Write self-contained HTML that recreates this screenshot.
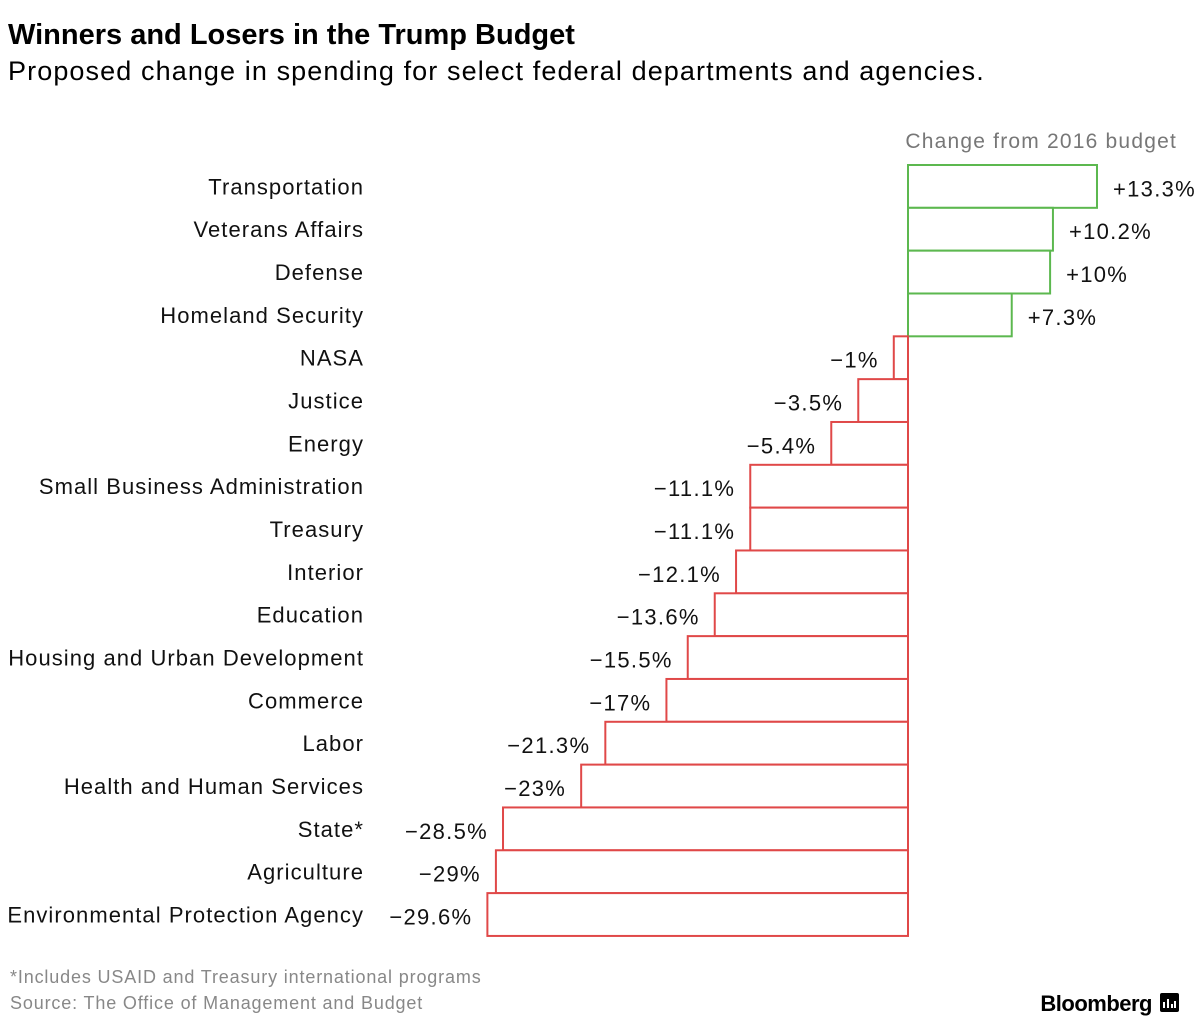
<!DOCTYPE html>
<html><head><meta charset="utf-8"><style>
body{margin:0;background:#fff;width:1200px;height:1031px;overflow:hidden;font-family:"Liberation Sans",Arial,sans-serif}
</style></head><body>
<svg id="chart" width="1200" height="1031" xmlns="http://www.w3.org/2000/svg" font-family="Liberation Sans, Arial, sans-serif">
<text x="8" y="44" font-size="29" font-weight="bold" fill="#000">Winners and Losers in the Trump Budget</text>
<text x="8" y="80" font-size="27" fill="#000" letter-spacing="1.1">Proposed change in spending for select federal departments and agencies.</text>
<text x="1177" y="148" font-size="21" fill="#777" text-anchor="end" letter-spacing="1.2">Change from 2016 budget</text>
<g id="bars"></g>
<text x="10" y="983" font-size="18" fill="#888" letter-spacing="0.85">*Includes USAID and Treasury international programs</text>
<text x="10" y="1009" font-size="18" fill="#888" letter-spacing="0.85">Source: The Office of Management and Budget</text>
<text x="1152" y="1011" font-size="22" font-weight="bold" fill="#000" text-anchor="end" letter-spacing="-0.5">Bloomberg</text>
<rect x="1160" y="993" width="19" height="19" rx="2" fill="#000"/>
<path d="M1164 1008v-6M1168 1008v-9M1172 1008v-4M1175 1008v-7" stroke="#fff" stroke-width="2"/>
</svg>
<script>
const categories=["Transportation","Veterans Affairs","Defense","Homeland Security","NASA","Justice","Energy","Small Business Administration","Treasury","Interior","Education","Housing and Urban Development","Commerce","Labor","Health and Human Services","State*","Agriculture","Environmental Protection Agency"];
const values=[13.3,10.2,10,7.3,-1,-3.5,-5.4,-11.1,-11.1,-12.1,-13.6,-15.5,-17,-21.3,-23,-28.5,-29,-29.6];
const valueLabels=["+13.3%","+10.2%","+10%","+7.3%","\u22121%","\u22123.5%","\u22125.4%","\u221211.1%","\u221211.1%","\u221212.1%","\u221213.6%","\u221215.5%","\u221217%","\u221221.3%","\u221223%","\u221228.5%","\u221229%","\u221229.6%"];
const NS="http://www.w3.org/2000/svg";
const x0=908, scaleX=14.21, topY=165, rowH=42.83;
const xs=v=>x0+v*scaleX;
const ys=i=>topY+i*rowH;
const g=document.getElementById('bars');
categories.forEach((c,i)=>{
  const v=values[i];
  const y=ys(i);
  const r=document.createElementNS(NS,'rect');
  
  
  const xa=Math.min(xs(0),xs(v)), w=Math.abs(xs(v)-xs(0));
  r.setAttribute('x',xa);r.setAttribute('y',y);r.setAttribute('width',w);r.setAttribute('height',rowH);
  r.setAttribute('fill','#fff');r.setAttribute('stroke',v>=0?'#5cb84f':'#e04848');r.setAttribute('stroke-width','2');
  g.appendChild(r);
  const t=document.createElementNS(NS,'text');
  
  
  t.setAttribute('x',364);t.setAttribute('y',y+rowH/2+8);t.setAttribute('font-size','22');t.setAttribute('text-anchor','end');t.setAttribute('fill','#111');t.setAttribute('letter-spacing','1.05');
  t.textContent=c;g.appendChild(t);
  const l=document.createElementNS(NS,'text');
  
  
  l.setAttribute('y',y+rowH/2+10);l.setAttribute('font-size','22');l.setAttribute('fill','#111');l.setAttribute('letter-spacing','1.3');
  if(v>=0){l.setAttribute('x',xs(v)+16);l.setAttribute('text-anchor','start');}
  else{l.setAttribute('x',xs(v)-15);l.setAttribute('text-anchor','end');}
  l.textContent=valueLabels[i];g.appendChild(l);
});
</script>
</body></html>
